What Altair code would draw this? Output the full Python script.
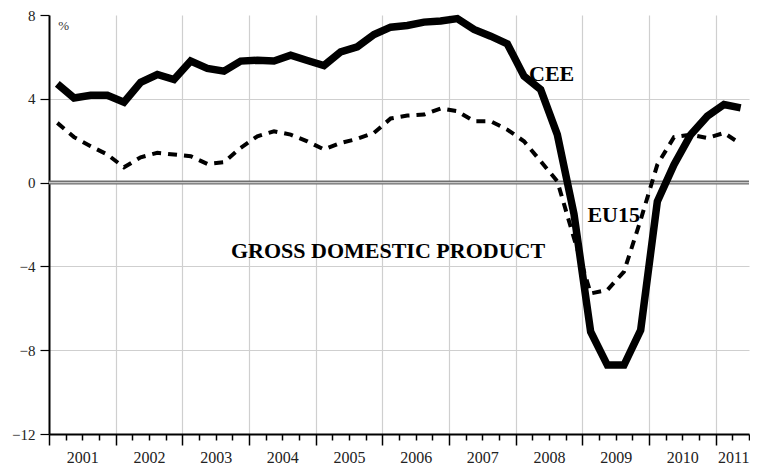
import altair as alt
import pandas as pd

# ---- data ----
years = ["2001", "2002", "2003", "2004", "2005", "2006",
         "2007", "2008", "2009", "2010", "2011"]
quarters = list(range(42))  # 2001Q1 .. 2011Q2
cee = [4.71, 4.04, 4.17, 4.17, 3.84, 4.79, 5.16, 4.92, 5.80, 5.45,
       5.32, 5.80, 5.84, 5.80, 6.08, 5.83, 5.59, 6.24, 6.48, 7.07,
       7.42, 7.50, 7.66, 7.71, 7.83, 7.31, 6.99, 6.62, 5.08, 4.44,
       2.29, -1.50, -7.12, -8.71, -8.71, -7.04, -0.90, 0.86, 2.29, 3.17,
       3.73, 3.57]
eu15 = [2.85, 2.17, 1.74, 1.34, 0.73, 1.21, 1.42, 1.34, 1.26, 0.89,
        0.97, 1.66, 2.21, 2.45, 2.29, 1.97, 1.58, 1.89, 2.09, 2.37,
        3.06, 3.20, 3.25, 3.54, 3.41, 2.93, 2.93, 2.53, 1.97, 1.02,
        0.06, -2.65, -5.29, -5.13, -4.25, -1.78, 0.86, 2.17, 2.29, 2.13,
        2.37, 1.85]
y_ticks = [-12, -8, -4, 0, 4, 8]
ann_text = ["CEE", "EU15", "GROSS DOMESTIC PRODUCT"]
ann_x = [30.16, 33.88, 20.34]
ann_y = [4.86, -1.88, -3.62]
unit_text = ["%"]
unit_x = [0.88]
unit_y = [7.3]

df = pd.DataFrame({"q": [i + 0.5 for i in quarters], "CEE": cee, "EU15": eu15})
ann = pd.DataFrame({"t": ann_text, "x": ann_x, "y": ann_y})
unit = pd.DataFrame({"t": unit_text, "x": unit_x, "y": unit_y})
zero = pd.DataFrame({"v": [0]})

SERIF = "Liberation Serif"

xscale = alt.Scale(domain=[0, len(quarters)], nice=False, zero=False)
yscale = alt.Scale(domain=[min(y_ticks), max(y_ticks)], nice=False)

year_list = "[" + ",".join("'%s'" % y for y in years) + "]"
label_expr = "datum.value % 4 == 2 ? " + year_list + "[(datum.value - 2) / 4] : ''"

x_axis = alt.Axis(
    values=list(range(len(quarters) + 1)),
    title=None,
    labelExpr=label_expr,
    tickSize={"condition": {"test": "datum.value % 4 == 0", "value": 11}, "value": 6},
    tickColor="black",
    tickWidth=1.5,
    grid=True,
    gridColor="#cfcfcf",
    gridWidth=1.2,
    gridOpacity={"condition": {"test": "datum.value % 4 == 0 && datum.value > 0 && datum.value < 42",
                               "value": 1}, "value": 0},
    domainColor="black",
    domainWidth=2,
    labelFont=SERIF,
    labelFontSize=16,
    labelColor="#222222",
    labelPadding=9,
    labelFlush=True,
    labelOverlap=False,
    labelBound=False,
)
y_axis = alt.Axis(
    values=y_ticks,
    title=None,
    tickSize=9,
    tickColor="black",
    tickWidth=1.2,
    grid=True,
    gridColor="#cfcfcf",
    gridWidth=1.2,
    gridOpacity={"condition": {"test": "datum.value == 8 || datum.value == 0 || datum.value == -12",
                               "value": 0}, "value": 1},
    domainColor="black",
    domainWidth=2,
    labelFont=SERIF,
    labelFontSize=15,
    labelColor="#222222",
    labelAlign="right",
    labelPadding=5,
)

X = lambda f: alt.X(f, type="quantitative", scale=xscale, axis=x_axis)
Y = lambda f: alt.Y(f, type="quantitative", scale=yscale, axis=y_axis)

zero_outer = alt.Chart(zero).mark_rule(color="#707070", strokeWidth=4).encode(y=Y("v"))
zero_inner = alt.Chart(zero).mark_rule(color="#c8c8c8", strokeWidth=1.4).encode(y=Y("v"))

eu_line = alt.Chart(df).mark_line(
    color="black", strokeWidth=4, strokeDash=[9, 7], strokeJoin="miter"
).encode(x=X("q"), y=Y("EU15"))

cee_line = alt.Chart(df).mark_line(
    color="black", strokeWidth=7.5, strokeJoin="miter", strokeCap="butt"
).encode(x=X("q"), y=Y("CEE"))

ann_layer = alt.Chart(ann).mark_text(
    font=SERIF, fontSize=22, fontWeight="bold", color="black",
    align="center", baseline="alphabetic"
).encode(x=X("x"), y=Y("y"), text="t:N")

unit_layer = alt.Chart(unit).mark_text(
    font=SERIF, fontSize=13, color="#333333", align="center", baseline="alphabetic"
).encode(x=X("x"), y=Y("y"), text="t:N")

chart = alt.layer(
    zero_outer, zero_inner, eu_line, cee_line, ann_layer, unit_layer
).properties(
    width=700, height=419,
    autosize=alt.AutoSizeParams(type="none"),
    padding={"left": 41, "top": 7, "right": 1, "bottom": 31},
    background="white",
).configure_view(stroke=None)

chart.save("out.html", embed_options={"renderer": "svg", "actions": False})
